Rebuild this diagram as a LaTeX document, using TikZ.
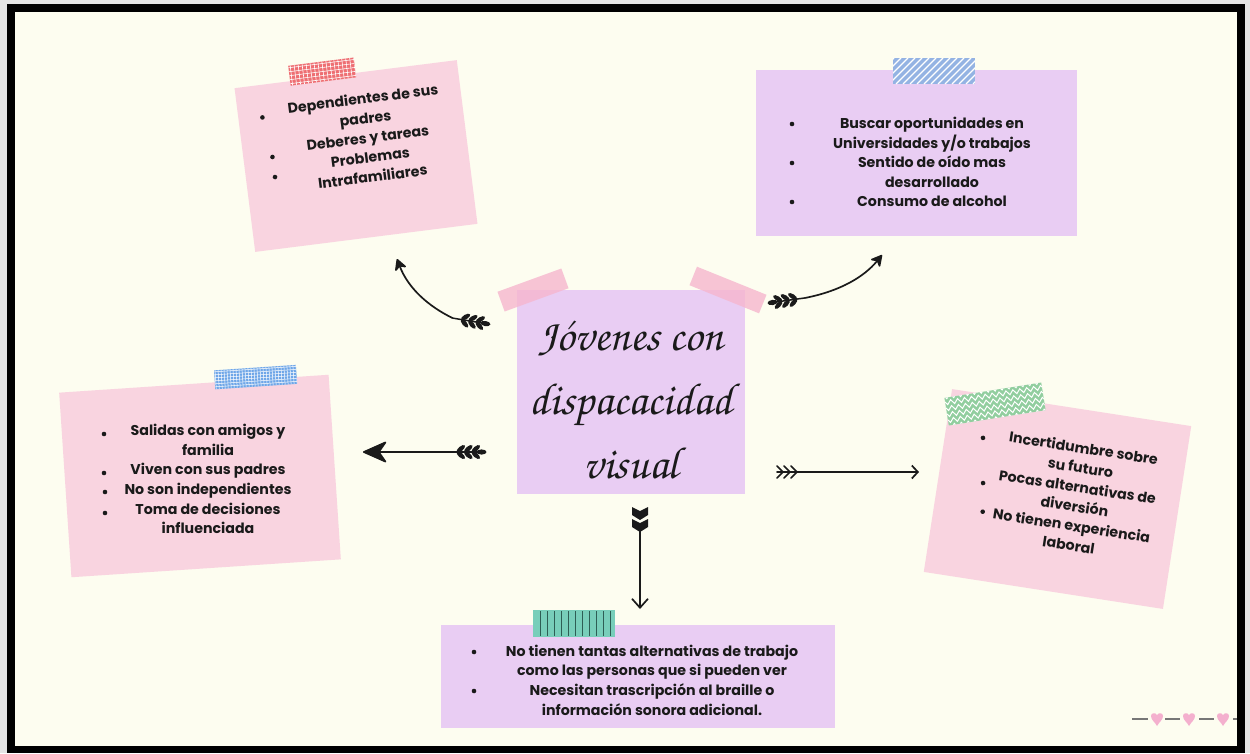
\documentclass[tikz,border=0pt]{standalone}
\usepackage[T1,TU]{fontenc}
\usepackage{fontspec}
\setmainfont{Poppins}
\usetikzlibrary{arrows.meta,decorations.pathmorphing}

\definecolor{paper}{HTML}{FDFDF0}
\definecolor{edgegrey}{HTML}{E4E4E4}
\definecolor{notepink}{HTML}{F9D4E0}
\definecolor{notelilac}{HTML}{E9CDF3}
\definecolor{tapepink}{HTML}{F6B6CE}
\definecolor{tapered}{HTML}{EE6E72}
\definecolor{tapeblue}{HTML}{94B3E3}
\definecolor{tapesky}{HTML}{6EA6E8}
\definecolor{tapegreen}{HTML}{92CE9F}
\definecolor{tapeteal}{HTML}{78CEBA}
\definecolor{tealline}{HTML}{2E5E55}
\definecolor{heartpink}{HTML}{F4B0CE}
\definecolor{rulegrey}{HTML}{777777}
\definecolor{ink}{HTML}{1A1A1A}

\newcommand\handscript{\fontencoding{T1}\fontfamily{pzc}\fontseries{mb}\fontshape{it}\selectfont}

\begin{document}
\begin{tikzpicture}[x=1pt,y=-1pt,
  note/.style={inner sep=0, draw=none},
  txt/.style={font=\fontsize{14.2}{19.6}\selectfont\bfseries, align=center, inner sep=0, text=ink},
  title/.style={font=\handscript\fontsize{45}{64}\selectfont, align=center, inner sep=0, text=ink},
  shaft/.style={line width=1.7pt, ink, line cap=round},
  bullet/.style={fill=ink},
  leafstem/.pic={
    \draw[line width=1.5pt, ink] (0,0) -- (30,0);
    \fill[ink] (-3.5,0) ellipse (5 and 2.6);
    \foreach \t in {6,13.5,21}{
      \fill[ink, rotate around={40:(\t,0)}] (\t-5,0) ellipse (5.2 and 2.3);
      \fill[ink, rotate around={-40:(\t,0)}] (\t-5,0) ellipse (5.2 and 2.3);
    }
  },
  heart/.pic={
    \fill[heartpink] (0,7) .. controls (-2,3) and (-6,1) .. (-6,-3)
      .. controls (-6,-6) and (-2,-7) .. (0,-4)
      .. controls (2,-7) and (6,-6) .. (6,-3)
      .. controls (6,1) and (2,3) .. (0,7) -- cycle;
  }
]
\useasboundingbox (0,0) rectangle (1250,753);

% frame and paper
\fill[edgegrey] (0,0) rectangle (1250,753);
\fill[black] (7,4) rectangle (1245,753);
\fill[paper] (15,12) rectangle (1237,746);

% ---------- top-left note ----------
\begin{scope}[shift={(356,156)}, rotate=7.2, transform shape]
  \node[note, fill=notepink, minimum width=224, minimum height=165] (famnote) at (0,0) {};
  \begin{scope}[shift={(-23,-88)}]
    \fill[tapered] (-33,-10) rectangle (33,10);
    \begin{scope}
      \clip (-33,-10) rectangle (33,10);
      \foreach \g in {-31,-27,...,33} \draw[white, line width=0.6] (\g,-10) -- (\g,10);
      \foreach \g in {-8,-4,...,8} \draw[white, line width=0.6] (-33,\g) -- (33,\g);
    \end{scope}
  \end{scope}
  \node[txt] (famtext) at (14,-17) {Dependientes de sus\\padres\\Deberes y tareas\\Problemas\\Intrafamiliares};
  \fill[bullet] (-88,-50) circle (2.3);
  \fill[bullet] (-83,-9.5) circle (2.3);
  \fill[bullet] (-83,10.7) circle (2.3);
\end{scope}

% ---------- top-right note ----------
\node[note, fill=notelilac, minimum width=321, minimum height=166] (oppnote) at (916.5,153) {};
\fill[tapeblue] (893,58) rectangle (975,84);
\begin{scope}
  \clip (893,58) rectangle (975,84);
  \foreach \g in {868,875,...,980} \draw[white, line width=1.3] (\g,84) -- (\g+26,58);
\end{scope}
\node[txt] (opptext) at (932,162) {Buscar oportunidades en\\Universidades y/o trabajos\\Sentido de o\'ido mas\\desarrollado\\Consumo de alcohol};
\fill[bullet] (792,124) circle (2.3);
\fill[bullet] (792,163) circle (2.3);
\fill[bullet] (792,202) circle (2.3);

% ---------- central note ----------
\node[note, fill=notelilac, minimum width=228, minimum height=204] (core) at (631,392) {};
\fill[tapepink, opacity=0.8, rotate around={20:(533,290)}] (499,279.5) rectangle (567,300.5);
\fill[tapepink, opacity=0.8, rotate around={-22:(728,290)}] (690.5,280) rectangle (765.5,300);
\node[title] (coretitle) at (631,400) {J\'ovenes con\\dispacacidad\\visual};

% ---------- left note ----------
\begin{scope}[shift={(200,476)}, rotate=3.8, transform shape]
  \node[note, fill=notepink, minimum width=270, minimum height=185] (socnote) at (0,0) {};
  \begin{scope}[shift={(62,-95)}]
    \fill[tapesky] (-41,-9.5) rectangle (41,9.5);
    \begin{scope}
      \clip (-41,-9.5) rectangle (41,9.5);
      \foreach \g in {-40,-37,...,41} \draw[white, line width=0.5] (\g,-9.5) -- (\g,9.5);
      \foreach \g in {-8,-5,...,9} \draw[white, line width=0.5] (-41,\g) -- (41,\g);
    \end{scope}
  \end{scope}
\end{scope}
\node[txt] (soctext) at (208,479) {Salidas con amigos y\\familia\\Viven con sus padres\\No son independientes\\Toma de decisiones\\influenciada};
\fill[bullet] (104,434) circle (2.3);
\fill[bullet] (104,473) circle (2.3);
\fill[bullet] (105,492) circle (2.3);
\fill[bullet] (105,513) circle (2.3);

% ---------- right note ----------
\begin{scope}[shift={(1057.5,499)}, rotate=-8.8, transform shape]
  \node[note, fill=notepink, minimum width=242, minimum height=185] (futnote) at (0,0) {};
  \node[txt] (futtext) at (18,-5.5) {Incertidumbre sobre\\su futuro\\Pocas alternativas de\\diversi\'on\\No tienen experiencia\\laboral};
  \fill[bullet] (-83,-49) circle (2.3);
  \fill[bullet] (-76,-4.4) circle (2.3);
  \fill[bullet] (-72,24) circle (2.3);
\end{scope}
\begin{scope}[shift={(995,404)}, rotate=9]
  \fill[tapegreen] (-49,-14) rectangle (49,14);
  \begin{scope}
    \clip (-49,-14) rectangle (49,14);
    \foreach \g in {-15,-9,...,15}
      \draw[white, line width=1, decorate, decoration={zigzag, segment length=7, amplitude=2.2}] (-52,\g) -- (52,\g);
  \end{scope}
\end{scope}

% ---------- bottom note ----------
\node[note, fill=notelilac, minimum width=394, minimum height=103] (worknote) at (638,676.5) {};
\fill[tapeteal] (533,610) rectangle (615,637);
\foreach \g in {540,547,...,610} \draw[tealline, line width=1] (\g,611) -- (\g,636);
\node[txt] (worktext) at (652,680) {No tienen tantas alternativas de trabajo\\como las personas que si pueden ver\\Necesitan trascripci\'on al braille o\\informaci\'on sonora adicional.};
\fill[bullet] (474,652) circle (2.3);
\fill[bullet] (474,691) circle (2.3);

% ---------- arrows ----------
% upper left
\coordinate (ultail) at (482,323);
\coordinate (ulneck) at (452.4,318);
\coordinate (ultip) at (397,259);
\pic[rotate=170.5] at (ultail) {leafstem};
\draw[shaft, -{Stealth[length=13pt,width=14pt,inset=4pt,round]}] (ulneck) .. controls (428,306) and (408,288) .. (ultip);

% upper right
\coordinate (urtail) at (776,302);
\coordinate (urneck) at (805.7,297.8);
\coordinate (urtip) at (882,255);
\pic[rotate=8] at (urtail) {leafstem};
\draw[shaft, -{Stealth[length=13pt,width=14pt,inset=4pt,round]}] (urneck) .. controls (840,291) and (864,277) .. (urtip);

% left
\coordinate (ltail) at (478,452);
\coordinate (lneck) at (448,452);
\coordinate (ltip) at (363,452);
\pic[rotate=180] at (ltail) {leafstem};
\draw[shaft, -{Stealth[length=26pt,width=23pt,inset=8pt,round]}] (lneck) -- (ltip);

% right
\coordinate (rtail) at (777,472);
\coordinate (rtip) at (919,472);
\draw[shaft, -{Straight Barb[length=6pt,width=13pt]}] (rtail) -- (rtip);
\foreach \dx in {0,7,14}
  \draw[line width=1.7pt, ink, line cap=round, line join=round]
    ([shift={(\dx,-6)}]rtail) -- ([shift={(\dx+6,0)}]rtail) -- ([shift={(\dx,6)}]rtail);

% down
\coordinate (dtail) at (640,507);
\coordinate (dneck) at (640,528);
\coordinate (dtip) at (640,609);
\foreach \dy in {0,12}
  \fill[ink] ([shift={(-8,\dy)}]dtail) -- ([shift={(0,\dy+4)}]dtail) -- ([shift={(8,\dy)}]dtail)
    -- ([shift={(8,\dy+8)}]dtail) -- ([shift={(0,\dy+13)}]dtail) -- ([shift={(-8,\dy+8)}]dtail) -- cycle;
\draw[shaft, -{Straight Barb[length=9pt,width=16pt]}] (dneck) -- (dtip);

% ---------- footer ornament ----------
\coordinate (orn) at (1132,719);
\foreach \a/\b in {0/16, 33/48, 67/82, 101/105}
  \draw[rulegrey, line width=2.2pt] ([shift={(\a,0)}]orn) -- ([shift={(\b,0)}]orn);
\foreach \h in {25,57,91}
  \pic at ([shift={(\h,0)}]orn) {heart};
\end{tikzpicture}
\end{document}
